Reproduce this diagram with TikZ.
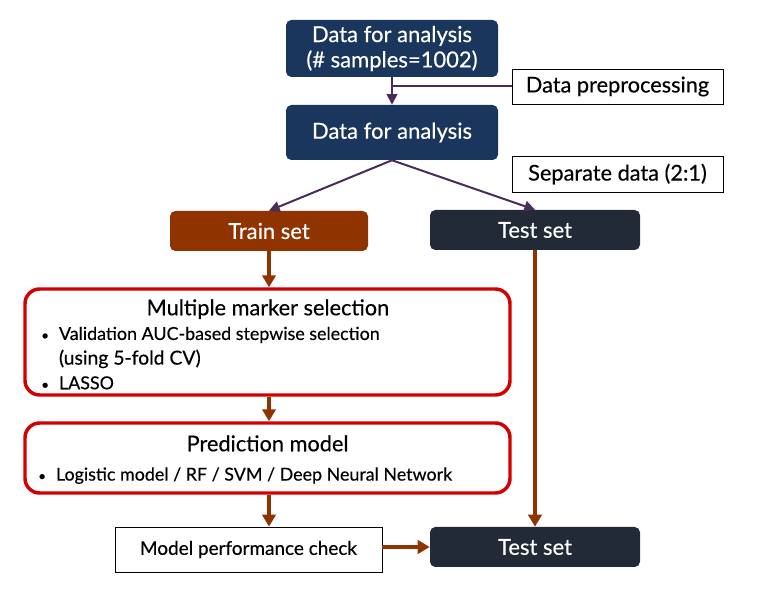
\documentclass[tikz,border=0pt]{standalone}
\usepackage{fontspec}
\setmainfont{Lato}[FakeBold=0.35]
\usetikzlibrary{arrows.meta,positioning,calc}

\definecolor{navy}{HTML}{1B365D}
\definecolor{rust}{HTML}{8F3300}
\definecolor{slate}{HTML}{232A37}
\definecolor{boxred}{HTML}{D40000}
\definecolor{plum}{HTML}{4A2C5A}

\newcommand\itemdot{{\fontsize{10}{10}\selectfont\textbullet}\hspace{7.5pt}}

\tikzset{
  darkbox/.style={rounded corners=4pt, inner sep=0pt, text=white, font=\fontsize{16.5}{19}\selectfont, align=center},
  notebox/.style={draw=black, line width=0.6pt, fill=white, inner sep=0pt, font=\fontsize{16.3}{19}\selectfont},
  redbox/.style={draw=boxred, line width=2.6pt, rounded corners=11pt, inner sep=0pt},
  plumarrow/.style={draw=plum, line width=1.5pt, -{Triangle[length=8pt,width=8pt]}},
  rustarrow/.style={draw=rust, line width=2.4pt, -{Triangle[length=9pt,width=10pt]}}
}

\begin{document}
\begin{tikzpicture}[x=0.75pt,y=-0.75pt]
    \useasboundingbox (0,0) rectangle (768,605);
    % top part
    \node[darkbox, fill=navy, minimum width=159pt, minimum height=42.75pt] (D1) at (392,48.5) {Data for analysis\\(\# samples=1002)};
    \node[notebox, minimum width=158.25pt, minimum height=26.25pt] (P) at (617.5,86.5) {Data preprocessing};
    \node[darkbox, fill=navy, minimum width=159pt, minimum height=41.25pt] (D2) at (392,132.5) {Data for analysis};
    \node[notebox, minimum width=158.25pt, minimum height=27pt] (S) at (617.5,174) {Separate data (2:1)};
    \node[darkbox, fill=rust, minimum width=148.5pt, minimum height=30pt] (TR) at (269,231) {Train set};
    \node[darkbox, fill=slate, minimum width=157.5pt, minimum height=30pt] (TE) at (535,230) {Test set};
    % model part
    \node[redbox, minimum width=363.75pt, minimum height=79.5pt] (M) at (267.5,342) {};
    \node[anchor=north west, inner sep=0pt, align=left, font=\fontsize{13.4}{18.5}\selectfont] (ML) at (41,299)
        {\makebox[340pt][c]{\fontsize{16.3}{18}\selectfont Multiple marker selection}\\
         \itemdot Validation AUC-based stepwise selection\\
         \phantom{\itemdot}{\fontsize{14.5}{18}\selectfont (using 5-fold CV)}\\
         \itemdot LASSO};
    \node[redbox, minimum width=363.75pt, minimum height=52.5pt] (PM) at (267.5,458) {};
    \node[anchor=north west, inner sep=0pt, align=left, font=\fontsize{13.4}{22}\selectfont] (PL) at (38,435)
        {\makebox[344pt][c]{\fontsize{16.3}{18}\selectfont Prediction model}\\
         \itemdot Logistic model / RF / SVM / Deep Neural Network};
    \node[notebox, font=\fontsize{14.2}{17}\selectfont, minimum width=200.25pt, minimum height=33.75pt] (C) at (248.5,549.5) {Model performance check};
    \node[darkbox, fill=slate, minimum width=157.5pt, minimum height=30pt] (T2) at (535,547) {Test set};
    % connectors
    \draw[plumarrow] (D1.south) -- (D2.north);
    \draw[plum, line width=1.5pt] (P.west) -- (P.west -| D1.south);
    \draw[plumarrow] (D2.south) -- (TR.north);
    \draw[plumarrow] (D2.south) -- (TE.north);
    \draw[rustarrow] (TR.south) -- (TR.south |- M.north);
    \draw[rustarrow] (M.south -| TR.south) -- (PM.north -| TR.south);
    \draw[rustarrow] (PM.south -| TR.south) -- (C.north -| TR.south);
    \draw[rustarrow] (C.east |- T2.west) -- (T2.west);
    \draw[rustarrow] (TE.south) -- (T2.north);
\end{tikzpicture}
\end{document}
